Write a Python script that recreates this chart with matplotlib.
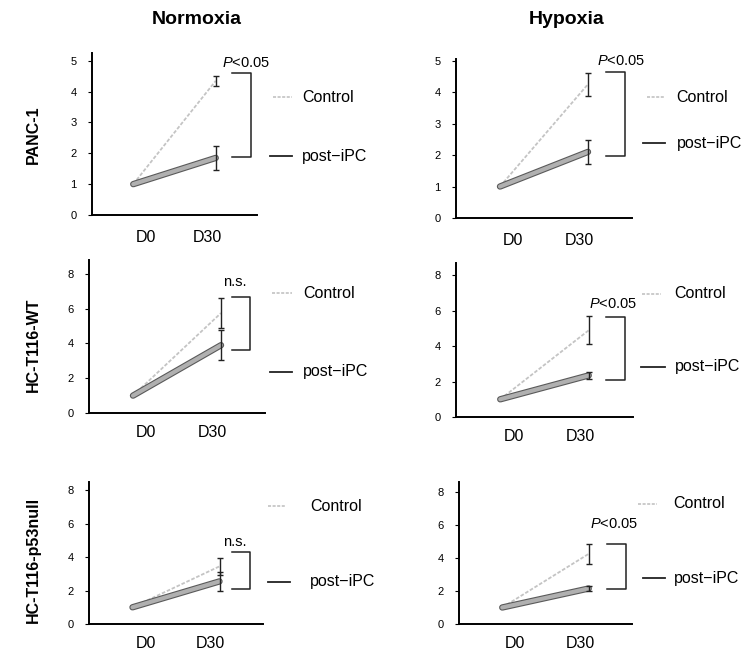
import matplotlib
matplotlib.use("Agg")
import matplotlib.pyplot as plt
import matplotlib.patheffects as pe
import numpy as np

plt.rcParams['font.family'] = ['Liberation Sans', 'DejaVu Sans']
plt.rcParams['mathtext.fontset'] = 'custom'
plt.rcParams['mathtext.it'] = 'Liberation Sans:italic'
plt.rcParams['mathtext.rm'] = 'Liberation Sans'

# data (fold change, D0 normalised to 1)
days = ["D0", "D30"]
conditions = ["Normoxia", "Hypoxia"]
cell_lines = ["PANC-1", "HC-T116-WT", "HC-T116-p53null"]
d0_value = 1.0
control_d30 = [[4.35, 4.25], [5.75, 4.9], [3.45, 4.25]]
control_err = [[0.17, 0.37], [0.85, 0.78], [0.5, 0.6]]
ipc_d30 = [[1.85, 2.1], [3.9, 2.35], [2.55, 2.15]]
ipc_err = [[0.4, 0.39], [0.85, 0.2], [0.55, 0.18]]
stat_labels = [[r"$P$<0.05", r"$P$<0.05"], ["n.s.", r"$P$<0.05"], ["n.s.", r"$P$<0.05"]]
y_max = [[5, 5], [8, 8], [8, 8]]
y_step = [[1, 1], [2, 2], [2, 2]]

# layout (pixels of the 741x655 figure)
W, H = 741, 655
axes_px = [[(92, 257, 215, 53), (456, 632, 218, 59)],
           [(89, 265, 413, 260), (456, 633, 417, 263)],
           [(89, 263, 624, 482), (459, 632, 624, 482)]]
ylims = [[5.25, 5.05], [8.8, 8.7], [8.5, 8.6]]
xlabel_pad = [11, 8.5, 8.5]
# bracket: x0, x1, top, bottom ; stat text: x, y
brackets = [[(1.2, 1.43, 4.59, 1.88), (1.21, 1.42, 4.65, 1.98)],
            [(1.12, 1.33, 6.7, 3.64), (1.2, 1.41, 5.65, 2.07)],
            [(1.14, 1.35, 4.28, 2.1), (1.21, 1.43, 4.85, 2.12)]]
stat_pos = [[(1.37, 4.94), (1.38, 5.0)],
            [(1.16, 7.53), (1.27, 6.37)],
            [(1.175, 4.9), (1.29, 6.06)]]
# legend in axes coords: ctrl line x0,x1,y ; ipc line x0,x1,y ; text x
legends = [[(1.095, 1.21, 0.728, 1.08, 1.21, 0.362, 1.273), (1.084, 1.188, 0.761, 1.06, 1.188, 0.47, 1.254)],
           [(1.038, 1.152, 0.783, 1.028, 1.154, 0.271, 1.218), (1.053, 1.16, 0.80, 1.047, 1.178, 0.326, 1.235)],
           [(1.027, 1.134, 0.829, 1.027, 1.153, 0.297, 1.27), (1.036, 1.145, 0.848, 1.061, 1.193, 0.321, 1.241)]]

fig = plt.figure(figsize=(W / 100, H / 100), dpi=100)
fig.patch.set_facecolor("white")

x = np.array([0, 1])
for r in range(3):
    for c in range(2):
        left, right, bottom, top = axes_px[r][c]
        ax = fig.add_axes([left / W, 1 - bottom / H, (right - left) / W, (bottom - top) / H])
        ax.set_xlim(-0.5, 1.5)
        ax.set_ylim(0, ylims[r][c])
        for s in ["top", "right"]:
            ax.spines[s].set_visible(False)
        for s in ["left", "bottom"]:
            ax.spines[s].set_linewidth(1.4)
        ax.set_yticks(np.arange(0, y_max[r][c] + 0.1, y_step[r][c]))
        ax.tick_params(axis="y", labelsize=8, length=3, width=0.8, pad=8)
        ax.set_xticks([0.15, 0.9])
        ax.set_xticklabels(days, fontsize=11.5)
        ax.tick_params(axis="x", length=0, pad=xlabel_pad[r])

        ctrl = [d0_value, control_d30[r][c]]
        ipc = [d0_value, ipc_d30[r][c]]
        ax.plot(x, ctrl, color="#c4c4c4", lw=1.3, ls=(0, (2, 1)), zorder=2)
        ax.plot(x, ipc, color="#b0b0b0", lw=3.0, solid_capstyle="round", zorder=3,
                path_effects=[pe.Stroke(linewidth=4.6, foreground="#5a5a5a"), pe.Normal()])
        ax.errorbar([1], [control_d30[r][c]], yerr=[control_err[r][c]], fmt="none",
                    ecolor="#222222", elinewidth=1.0, capsize=2.5, capthick=1.0, zorder=4)
        ax.errorbar([1], [ipc_d30[r][c]], yerr=[ipc_err[r][c]], fmt="none",
                    ecolor="#222222", elinewidth=1.0, capsize=2.5, capthick=1.0, zorder=4)

        bx0, bx1, btop, bbot = brackets[r][c]
        ax.plot([bx0, bx1, bx1, bx0], [btop, btop, bbot, bbot], color="#222222", lw=1.1, clip_on=False)
        sx, sy = stat_pos[r][c]
        ax.text(sx, sy, stat_labels[r][c], fontsize=10.5, ha="center", va="center", clip_on=False)

        cx0, cx1, cy, ix0, ix1, iy, tx = legends[r][c]
        ax.plot([cx0, cx1], [cy, cy], transform=ax.transAxes, color="#bdbdbd", lw=1.1,
                ls=(0, (2, 1)), clip_on=False)
        ax.plot([ix0, ix1], [iy, iy], transform=ax.transAxes, color="#222222", lw=1.3, clip_on=False)
        ax.text(tx, cy, "Control", transform=ax.transAxes, fontsize=11.5, va="center", ha="left")
        ax.text(tx, iy, "post\u2212iPC", transform=ax.transAxes, fontsize=11.5, va="center", ha="left")

fig.text(197 / W, 1 - 20 / H, conditions[0], fontsize=14, fontweight="bold", ha="center", va="center")
fig.text(567 / W, 1 - 20 / H, conditions[1], fontsize=14, fontweight="bold", ha="center", va="center")
for name, yy in zip(cell_lines, [135, 345, 560]):
    fig.text(33 / W, 1 - yy / H, name, fontsize=11.5, fontweight="bold", rotation=90,
             ha="center", va="center")

fig.savefig("out.png", dpi=100, facecolor="white")
